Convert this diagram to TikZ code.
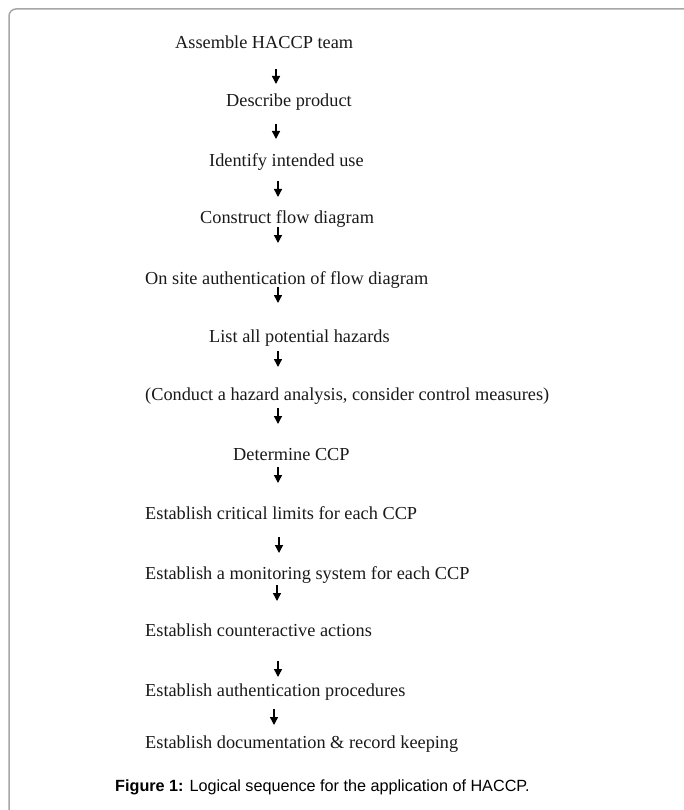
\documentclass[tikz,border=0pt]{standalone}
\usepackage{fontspec}
\setmainfont{Liberation Serif}
\newfontfamily\capfont{Liberation Sans}
\usetikzlibrary{arrows.meta}
\begin{document}
\begin{tikzpicture}[x=1pt,y=-1pt,
  stepnode/.style={anchor=base west, inner sep=0pt, text=black!90, font=\fontsize{18.3}{22}\selectfont},
  capnode/.style={anchor=base west, inner sep=0pt, font=\capfont\fontsize{16.2}{19}\selectfont},
  flowarrow/.style={line width=1.4pt, -{Triangle[width=8pt,length=8pt]}},
  frameline/.style={draw=black!35, line width=1.5pt, rounded corners=7pt}]
\useasboundingbox (0,0) rectangle (683,810);
\draw[frameline] (9,812) -- (9,9) -- (685,9);

\node[stepnode] (n1)  at (175,49)  {Assemble HACCP team};
\node[stepnode] (n2)  at (226,107) {Describe product};
\node[stepnode] (n3)  at (209,167) {Identify intended use};
\node[stepnode] (n4)  at (200,224) {Construct flow diagram};
\node[stepnode] (n5)  at (145,284) {On site authentication of flow diagram};
\node[stepnode] (n6)  at (209,342) {List all potential hazards};
\node[stepnode] (n7)  at (145,400) {(Conduct a hazard analysis, consider control measures)};
\node[stepnode] (n8)  at (233,460) {Determine CCP};
\node[stepnode] (n9)  at (145,519) {Establish critical limits for each CCP};
\node[stepnode] (n10) at (145,579) {Establish a monitoring system for each CCP};
\node[stepnode] (n11) at (145,636) {Establish counteractive actions};
\node[stepnode] (n12) at (145,696) {Establish authentication procedures};
\node[stepnode] (n13) at (145,748) {Establish documentation \& record keeping};
\node[capnode] (cap) at (115,791) {\textbf{Figure 1:} Logical sequence for the application of HACCP.};

\coordinate (a1s) at (276,69);   \coordinate (a1e) at (276,84);
\coordinate (a2s) at (276,124);  \coordinate (a2e) at (276,139);
\coordinate (a3s) at (278,181);  \coordinate (a3e) at (278,197);
\coordinate (a4s) at (278,227);  \coordinate (a4e) at (278,243);
\coordinate (a5s) at (278,287);  \coordinate (a5e) at (278,303);
\coordinate (a6s) at (278,351);  \coordinate (a6e) at (278,367);
\coordinate (a7s) at (278,408);  \coordinate (a7e) at (278,424);
\coordinate (a8s) at (278,467);  \coordinate (a8e) at (278,483);
\coordinate (a9s) at (279,537);  \coordinate (a9e) at (279,553);
\coordinate (a10s) at (277,585); \coordinate (a10e) at (277,601);
\coordinate (a11s) at (278,661); \coordinate (a11e) at (278,677);
\coordinate (a12s) at (274,709); \coordinate (a12e) at (274,725);

\foreach \i in {1,...,12} {
  \draw[flowarrow] (a\i s) -- (a\i e);
}
\end{tikzpicture}
\end{document}
